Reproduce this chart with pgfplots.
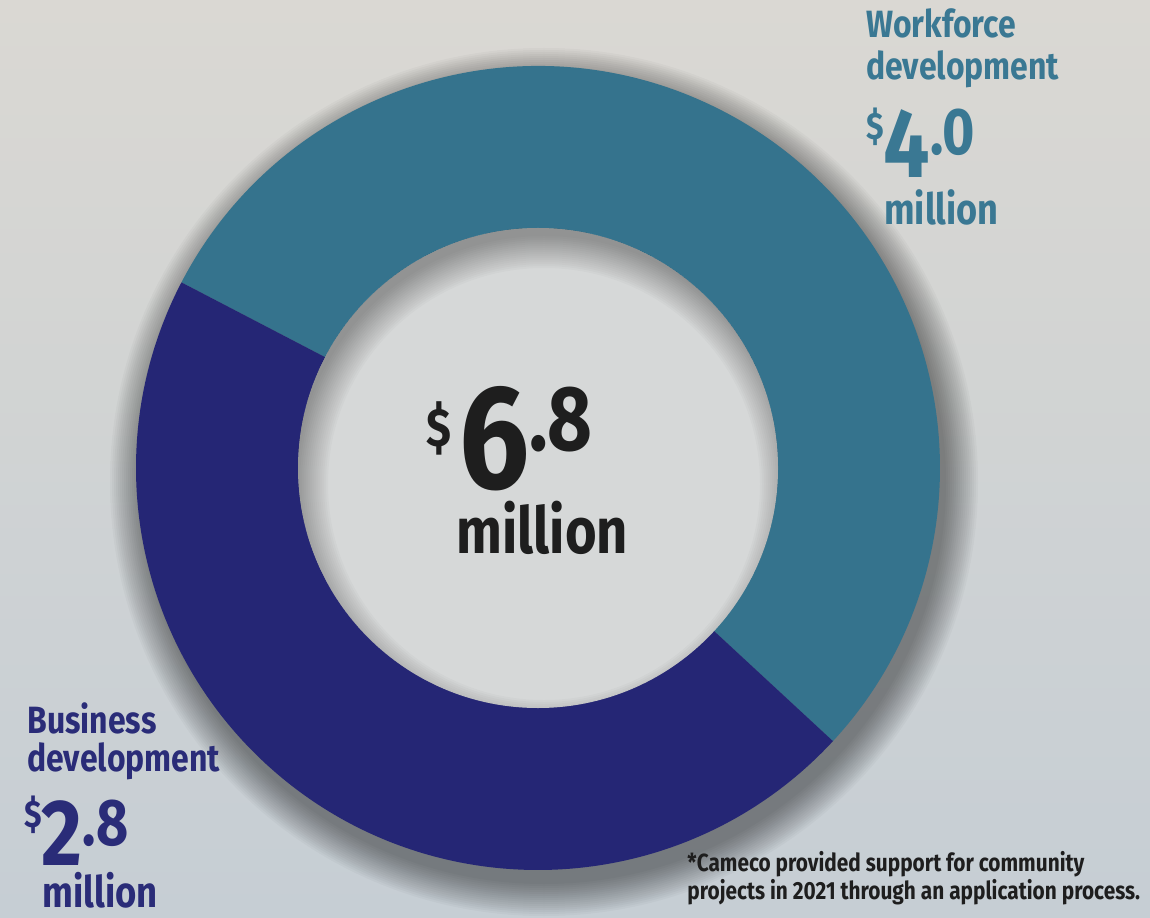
\documentclass[border=0pt]{standalone}
\usepackage{pgfplots}
\pgfplotsset{compat=1.18}
\usepackage{pgfplotstable}
\usepackage{fontspec}
\usetikzlibrary{calc}
\newfontfamily\cond[FakeStretch=0.84]{Fira Sans}
\definecolor{bgtop}{HTML}{DAD8D3}
\definecolor{bgbot}{HTML}{C6CED4}
\definecolor{wfcol}{HTML}{35738D}
\definecolor{bdcol}{HTML}{252675}
\definecolor{wftext}{HTML}{3A7893}
\definecolor{bdtext}{HTML}{2A2C78}
\definecolor{ctext}{HTML}{1E1E1E}
\definecolor{holel}{HTML}{D6D8D8}
% segment boundaries (degrees) read from the picture, and values (million $)
\pgfplotstableread{
seg start end value
Workforce 152.5 -42.8 4.0
Business -42.8 -207.5 2.8
}\segtable
\begin{document}
\begin{tikzpicture}
\begin{axis}[hide axis, scale only axis, x=0.5pt, y=0.5pt,
  xmin=0, xmax=1150, ymin=0, ymax=917, clip=false]
\shade[top color=bgtop, bottom color=bgbot] (axis cs:0,0) rectangle (axis cs:1150,917);
\coordinate (c) at (axis cs:538,449);
% soft outer drop shadow
\begin{scope}
\clip (axis cs:0,0) rectangle (axis cs:1150,917);
\pgfplotsinvokeforeach{16,15,14,13,12,11,10,9,8,7,6,5,4,3,2,1,0}{
  \fill[black, opacity=0.028] ($(c)+(3pt,-7pt)$) circle ({201pt+#1pt});
}
\end{scope}
\pgfplotstablegetelem{0}{start}\of\segtable \let\wfs\pgfplotsretval
\pgfplotstablegetelem{0}{end}\of\segtable \let\wfe\pgfplotsretval
\pgfplotstablegetelem{1}{start}\of\segtable \let\bds\pgfplotsretval
\pgfplotstablegetelem{1}{end}\of\segtable \let\bde\pgfplotsretval
\fill[wfcol] (c) -- ++(\wfs:201pt) arc[start angle=\wfs, end angle=\wfe, radius=201pt] -- cycle;
\fill[bdcol] (c) -- ++(\bds:201pt) arc[start angle=\bds, end angle=\bde, radius=201pt] -- cycle;
% hole with inner shadow
\fill[holel] (c) circle (120pt);
\begin{scope}
\clip (c) circle (120pt);
\pgfplotsinvokeforeach{124,123,122,121,120,119,118,117,116,115,114,113,112,111,110,109,108}{
  \fill[black, opacity=0.021, even odd rule] (c) circle (126pt) ($(c)+(3pt,-8pt)$) circle (#1pt);
}
\end{scope}
% center text
\node[anchor=base west, inner sep=0pt, text=ctext] at (axis cs:426,429)
  {\cond\bfseries\raisebox{21pt}{\fontsize{27}{27}\selectfont\$}\hspace{4pt}{\fontsize{74}{74}\selectfont 6}\raisebox{19pt}{\fontsize{46}{46}\selectfont.8}};
\node[anchor=base west, inner sep=0pt, text=ctext] at (axis cs:456,364)
  {\cond\bfseries\fontsize{32.3}{32}\selectfont million};
% workforce
\node[anchor=base west, inner sep=0pt, text=wftext] at (axis cs:866,879)
  {\cond\bfseries\fontsize{19}{21}\selectfont Workforce};
\node[anchor=base west, inner sep=0pt, text=wftext] at (axis cs:866,837)
  {\cond\bfseries\fontsize{19}{21}\selectfont development};
\node[anchor=base west, inner sep=0pt, text=wftext] at (axis cs:866,739)
  {\cond\bfseries\raisebox{19pt}{\fontsize{19}{19}\selectfont\$}{\fontsize{49}{49}\selectfont 4}\raisebox{11.5pt}{\fontsize{33}{33}\selectfont.0}};
\node[anchor=base west, inner sep=0pt, text=wftext] at (axis cs:884,692)
  {\cond\bfseries\fontsize{21.5}{21}\selectfont million};
% business
\node[anchor=base west, inner sep=0pt, text=bdtext] at (axis cs:27,184)
  {\cond\bfseries\fontsize{19}{21}\selectfont Business};
\node[anchor=base west, inner sep=0pt, text=bdtext] at (axis cs:27,146)
  {\cond\bfseries\fontsize{19}{21}\selectfont development};
\node[anchor=base west, inner sep=0pt, text=bdtext] at (axis cs:24,52)
  {\cond\bfseries\raisebox{19pt}{\fontsize{19}{19}\selectfont\$}{\fontsize{47}{47}\selectfont 2}\raisebox{10pt}{\fontsize{33}{33}\selectfont.8}};
\node[anchor=base west, inner sep=0pt, text=bdtext] at (axis cs:42,10)
  {\cond\bfseries\fontsize{21.7}{21}\selectfont million};
% footnote
\node[anchor=base west, inner sep=0pt, text=ctext] at (axis cs:687,46)
  {\cond\bfseries\fontsize{12.4}{14}\selectfont *Cameco provided support for community};
\node[anchor=base west, inner sep=0pt, text=ctext] at (axis cs:687,18)
  {\cond\bfseries\fontsize{12.4}{14}\selectfont projects in 2021 through an application process.};
\end{axis}
\end{tikzpicture}
\end{document}
